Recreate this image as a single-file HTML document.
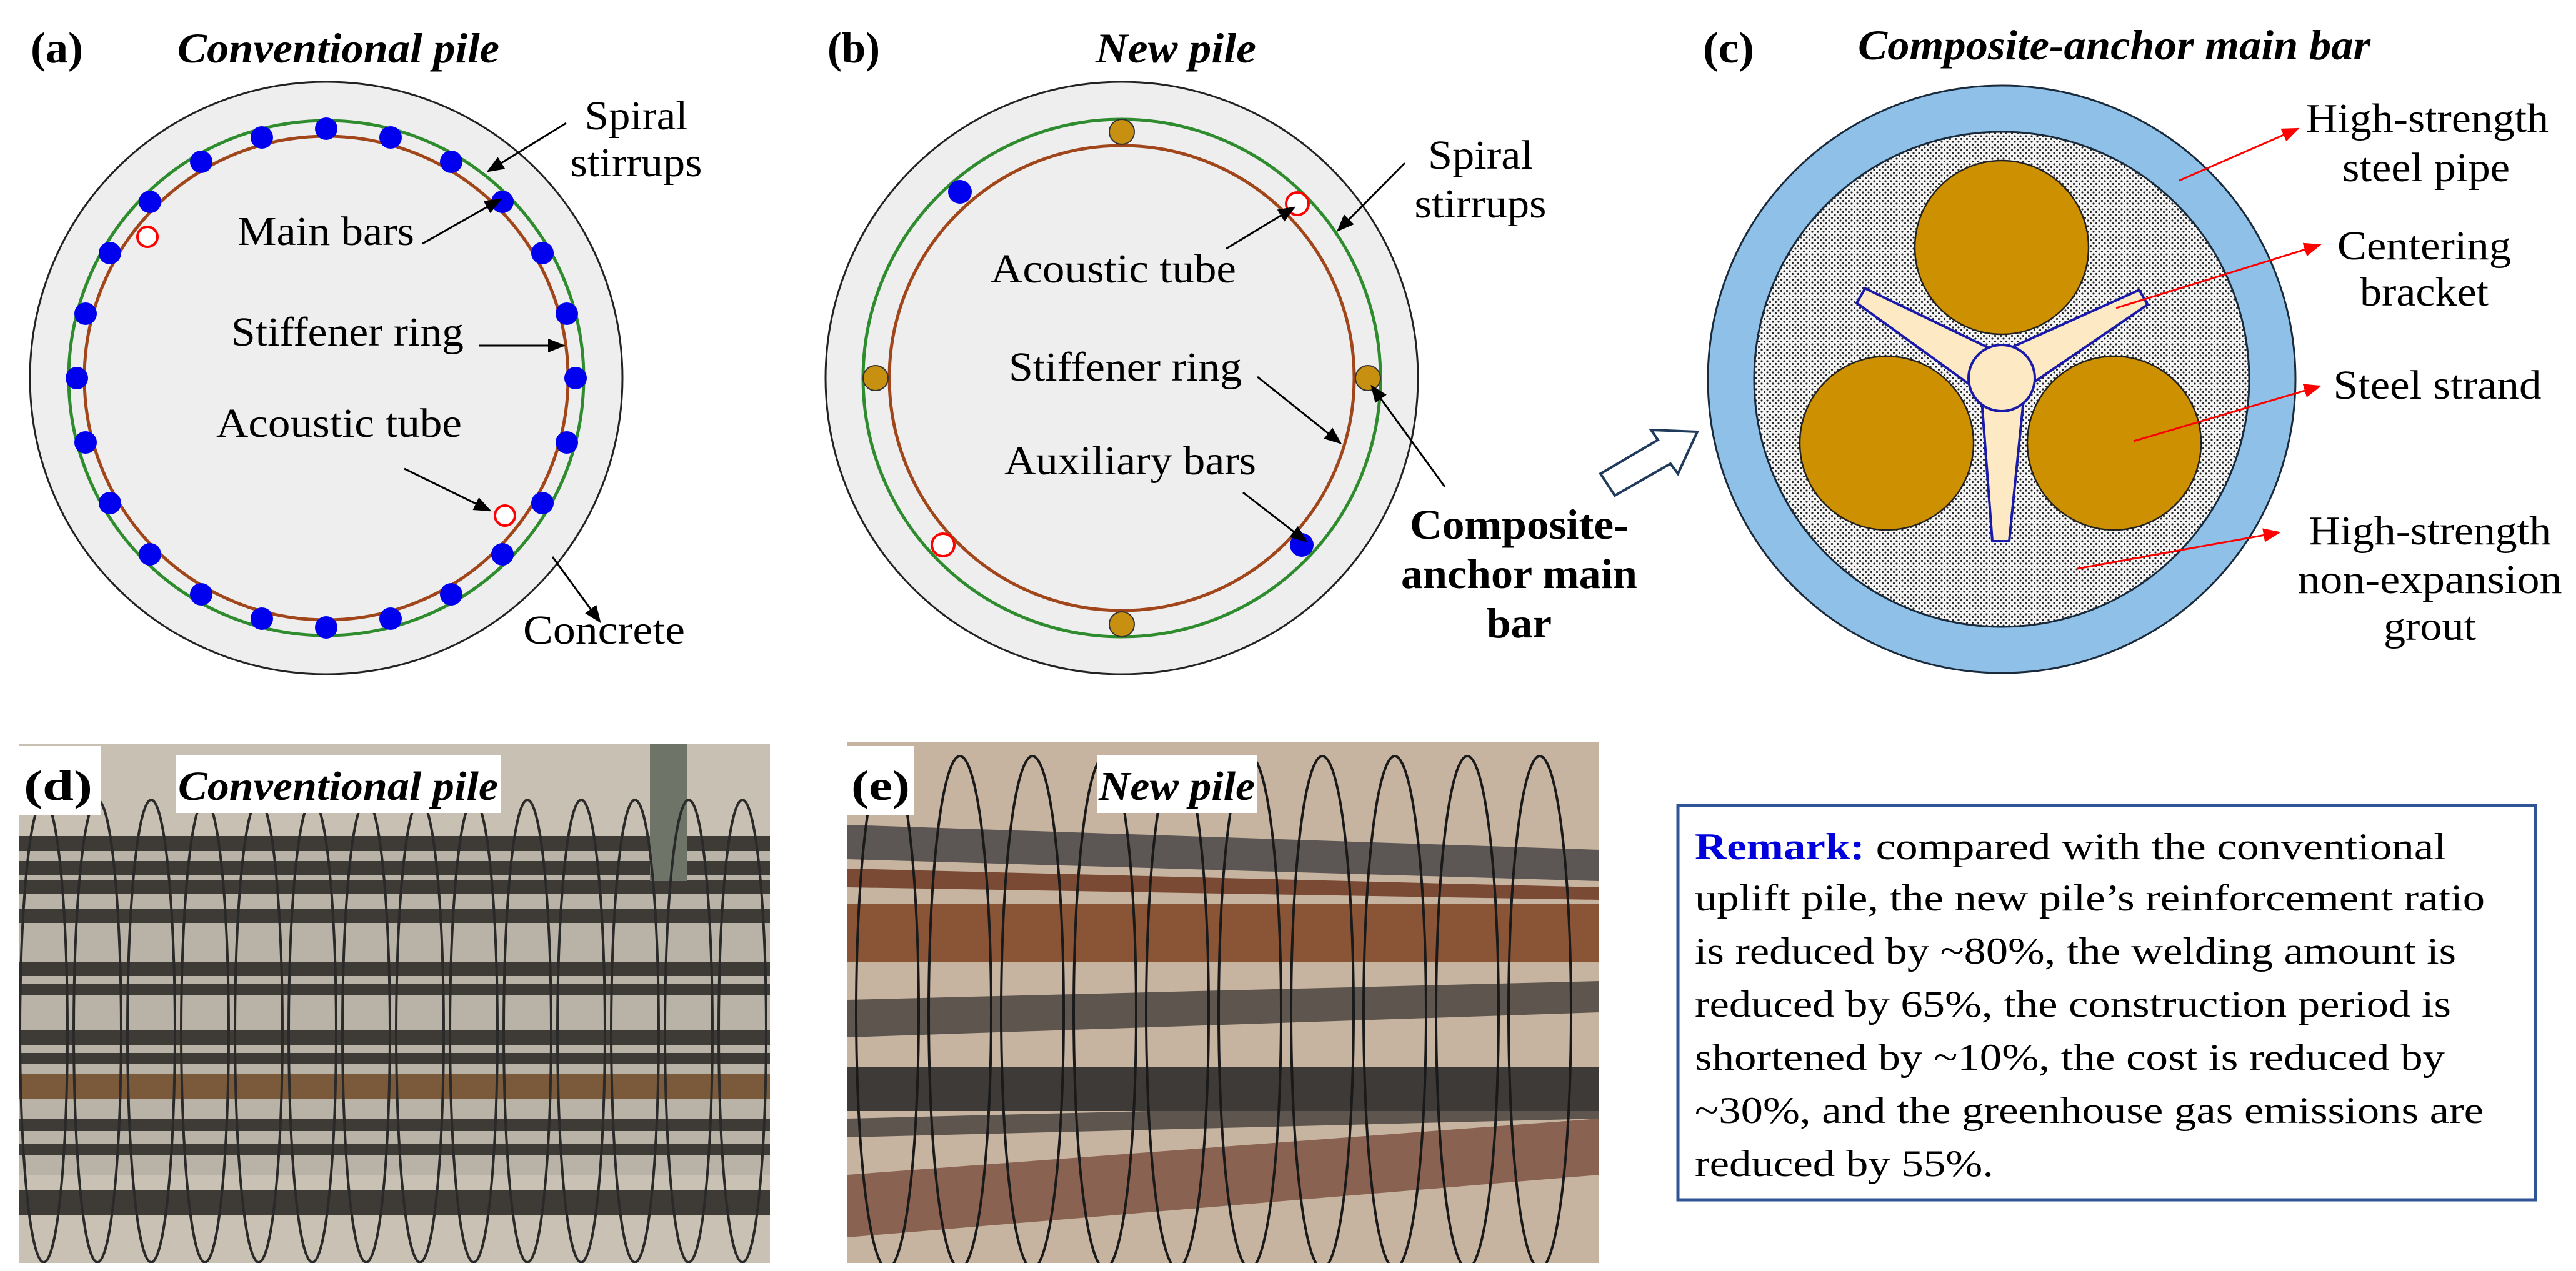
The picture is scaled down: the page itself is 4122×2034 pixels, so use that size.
<!DOCTYPE html>
<html><head><meta charset="utf-8"><style>
html,body{margin:0;padding:0;background:#fff;}
svg{display:block;}
svg text{font-family:"Liberation Serif","Times New Roman","DejaVu Serif",serif;fill:#000;}
</style></head><body>
<svg width="4122" height="2034" viewBox="0 0 4122 2034" xmlns="http://www.w3.org/2000/svg">
<defs>
<marker id="ak" viewBox="0 0 10 10" refX="9" refY="5" markerWidth="28" markerHeight="28" markerUnits="userSpaceOnUse" orient="auto"><path d="M0,1 L10,5 L0,9 z" fill="#000"/></marker>
<marker id="ar" viewBox="0 0 10 10" refX="9" refY="5" markerWidth="28" markerHeight="28" markerUnits="userSpaceOnUse" orient="auto"><path d="M0,1 L10,5 L0,9 z" fill="#f00"/></marker>
<pattern id="dots" width="9" height="9" patternUnits="userSpaceOnUse"><rect width="9" height="9" fill="#f4f4f4"/><circle cx="2" cy="2" r="1.6" fill="#222"/><circle cx="6.5" cy="6.5" r="1.6" fill="#222"/></pattern>
<clipPath id="cd"><rect x="30" y="1190" width="1202" height="831"/></clipPath>
<clipPath id="ce"><rect x="1356" y="1187" width="1203" height="834"/></clipPath>
</defs>

<!-- Panel (a) -->
<text x="49" y="100" font-size="70" font-weight="bold" textLength="84" lengthAdjust="spacingAndGlyphs">(a)</text>
<text x="284" y="100" font-size="68" font-weight="bold" font-style="italic" textLength="515" lengthAdjust="spacingAndGlyphs">Conventional pile</text>
<circle cx="522" cy="605" r="474" fill="#eeeeee" stroke="#222" stroke-width="3"/>
<circle cx="522" cy="605" r="412" fill="none" stroke="#2e8b2e" stroke-width="5"/>
<circle cx="522" cy="605" r="387" fill="none" stroke="#a0461a" stroke-width="5"/>
<g fill="#0000ee">
<circle cx="522" cy="206" r="18"/><circle cx="625" cy="220" r="18"/><circle cx="722" cy="259" r="18"/><circle cx="804" cy="323" r="18"/><circle cx="868" cy="405" r="18"/><circle cx="907" cy="502" r="18"/><circle cx="921" cy="605" r="18"/><circle cx="907" cy="708" r="18"/><circle cx="868" cy="805" r="18"/><circle cx="804" cy="887" r="18"/><circle cx="722" cy="951" r="18"/><circle cx="625" cy="990" r="18"/><circle cx="522" cy="1004" r="18"/><circle cx="419" cy="990" r="18"/><circle cx="322" cy="951" r="18"/><circle cx="240" cy="887" r="18"/><circle cx="176" cy="805" r="18"/><circle cx="137" cy="708" r="18"/><circle cx="123" cy="605" r="18"/><circle cx="137" cy="502" r="18"/><circle cx="176" cy="405" r="18"/><circle cx="240" cy="323" r="18"/><circle cx="322" cy="259" r="18"/><circle cx="419" cy="220" r="18"/>
</g>
<circle cx="236" cy="379" r="16" fill="#fff" stroke="#f00" stroke-width="4"/>
<circle cx="808" cy="825" r="16" fill="#fff" stroke="#f00" stroke-width="4"/>
<g font-size="66">
<text x="1018" y="207" text-anchor="middle" textLength="165" lengthAdjust="spacingAndGlyphs">Spiral</text>
<text x="1018" y="282" text-anchor="middle" textLength="211" lengthAdjust="spacingAndGlyphs">stirrups</text>
<text x="380" y="392" textLength="283" lengthAdjust="spacingAndGlyphs">Main bars</text>
<text x="370" y="553" textLength="372" lengthAdjust="spacingAndGlyphs">Stiffener ring</text>
<text x="346" y="699" textLength="393" lengthAdjust="spacingAndGlyphs">Acoustic tube</text>
<text x="837" y="1030" textLength="259" lengthAdjust="spacingAndGlyphs">Concrete</text>
</g>
<g stroke="#000" stroke-width="3" fill="none" marker-end="url(#ak)">
<line x1="906" y1="197" x2="781" y2="274"/>
<line x1="676" y1="390" x2="801" y2="319"/>
<line x1="766" y1="553" x2="902" y2="553"/>
<line x1="647" y1="750" x2="784" y2="817"/>
<line x1="884" y1="891" x2="960" y2="995"/>
</g>

<!-- Panel (b) -->
<text x="1324" y="100" font-size="70" font-weight="bold" textLength="84" lengthAdjust="spacingAndGlyphs">(b)</text>
<text x="1753" y="100" font-size="68" font-weight="bold" font-style="italic" textLength="257" lengthAdjust="spacingAndGlyphs">New pile</text>
<circle cx="1795" cy="605" r="474" fill="#eeeeee" stroke="#222" stroke-width="3"/>
<circle cx="1795" cy="605" r="414" fill="none" stroke="#2e8b2e" stroke-width="5"/>
<circle cx="1795" cy="605" r="372" fill="none" stroke="#a0461a" stroke-width="5"/>
<g fill="#c89010" stroke="#333" stroke-width="2">
<circle cx="1795" cy="211" r="20"/><circle cx="1795" cy="999" r="20"/><circle cx="1401" cy="605" r="20"/><circle cx="2189" cy="605" r="20"/>
</g>
<circle cx="1536" cy="307" r="19" fill="#0000ee"/>
<circle cx="2083" cy="872" r="19" fill="#0000ee"/>
<circle cx="2076" cy="326" r="18" fill="#fff" stroke="#f00" stroke-width="4"/>
<circle cx="1509" cy="872" r="18" fill="#fff" stroke="#f00" stroke-width="4"/>
<g font-size="66">
<text x="2369" y="270" text-anchor="middle" textLength="168" lengthAdjust="spacingAndGlyphs">Spiral</text>
<text x="2369" y="348" text-anchor="middle" textLength="211" lengthAdjust="spacingAndGlyphs">stirrups</text>
<text x="1585" y="452" textLength="393" lengthAdjust="spacingAndGlyphs">Acoustic tube</text>
<text x="1614" y="609" textLength="373" lengthAdjust="spacingAndGlyphs">Stiffener ring</text>
<text x="1607" y="759" textLength="403" lengthAdjust="spacingAndGlyphs">Auxiliary bars</text>
</g>
<g font-size="68" font-weight="bold" text-anchor="middle">
<text x="2431" y="862" textLength="350" lengthAdjust="spacingAndGlyphs">Composite-</text>
<text x="2431" y="941" textLength="378" lengthAdjust="spacingAndGlyphs">anchor main</text>
<text x="2431" y="1020" textLength="104" lengthAdjust="spacingAndGlyphs">bar</text>
</g>
<g stroke="#000" stroke-width="3" fill="none" marker-end="url(#ak)">
<line x1="1962" y1="398" x2="2071" y2="332"/>
<line x1="2248" y1="261" x2="2141" y2="369"/>
<line x1="2012" y1="603" x2="2145" y2="709"/>
<line x1="1989" y1="788" x2="2090" y2="866"/>
<line x1="2312" y1="779" x2="2195" y2="618"/>
</g>
<polygon points="2716,691 2642,688 2653,704 2561,758 2584,793 2673,742 2685,758" fill="#fff" stroke="#1f3a5a" stroke-width="4"/>

<!-- Panel (c) -->
<text x="2725" y="100" font-size="70" font-weight="bold" textLength="82" lengthAdjust="spacingAndGlyphs">(c)</text>
<text x="2973" y="95" font-size="68" font-weight="bold" font-style="italic" textLength="820" lengthAdjust="spacingAndGlyphs">Composite-anchor main bar</text>
<circle cx="3203" cy="607" r="470" fill="#8ec0e8" stroke="#1a2a3a" stroke-width="3"/>
<circle cx="3203" cy="607" r="396" fill="url(#dots)" stroke="#1a2a3a" stroke-width="3"/>
<g fill="#cc9000" stroke="#222" stroke-width="2.5">
<circle cx="3203" cy="396" r="139"/>
<circle cx="3019" cy="709" r="139"/>
<circle cx="3383" cy="709" r="139"/>
</g>
<g fill="#fde9c4" stroke="#1a1aaa" stroke-width="4" stroke-linejoin="round">
<polygon points="3171,640 3188,866 3215,866 3238,640"/>
<polygon points="3171,640 3188,866 3215,866 3238,640" transform="rotate(120 3203 605)"/>
<polygon points="3171,640 3188,866 3215,866 3238,640" transform="rotate(240 3203 605)"/>
<circle cx="3203" cy="605" r="53"/>
</g>
<g font-size="66" text-anchor="middle">
<text x="3884" y="211" textLength="388" lengthAdjust="spacingAndGlyphs">High-strength</text>
<text x="3882" y="290" textLength="268" lengthAdjust="spacingAndGlyphs">steel pipe</text>
<text x="3879" y="415" textLength="278" lengthAdjust="spacingAndGlyphs">Centering</text>
<text x="3879" y="489" textLength="206" lengthAdjust="spacingAndGlyphs">bracket</text>
<text x="3900" y="638" textLength="333" lengthAdjust="spacingAndGlyphs">Steel strand</text>
<text x="3888" y="871" textLength="388" lengthAdjust="spacingAndGlyphs">High-strength</text>
<text x="3888" y="949" textLength="423" lengthAdjust="spacingAndGlyphs">non-expansion</text>
<text x="3888" y="1024" textLength="148" lengthAdjust="spacingAndGlyphs">grout</text>
</g>
<g stroke="#f00" stroke-width="3" fill="none" marker-end="url(#ar)">
<line x1="3487" y1="289" x2="3677" y2="206"/>
<line x1="3386" y1="493" x2="3712" y2="392"/>
<line x1="3414" y1="706" x2="3712" y2="618"/>
<line x1="3324" y1="910" x2="3647" y2="852"/>
</g>

<!-- Photo (d) -->
<g clip-path="url(#cd)">
<rect x="30" y="1190" width="1202" height="831" fill="#b9b2a6"/>
<rect x="30" y="1190" width="1202" height="160" fill="#c8c0b2"/>
<rect x="30" y="1880" width="1202" height="141" fill="#c9c1b4"/>
<g fill="#3e3a36">
<rect x="30" y="1338" width="1202" height="24"/>
<rect x="30" y="1378" width="1202" height="22"/>
<rect x="30" y="1409" width="1202" height="22"/>
<rect x="30" y="1455" width="1202" height="22"/>
<rect x="30" y="1540" width="1202" height="22"/>
<rect x="30" y="1575" width="1202" height="18"/>
<rect x="30" y="1648" width="1202" height="24"/>
<rect x="30" y="1685" width="1202" height="18"/>
<rect x="30" y="1790" width="1202" height="20"/>
<rect x="30" y="1830" width="1202" height="18"/>
<rect x="30" y="1905" width="1202" height="40"/>
</g>
<rect x="30" y="1719" width="1202" height="40" fill="#7a5a3a"/>
<rect x="1040" y="1190" width="60" height="220" fill="#6f7468"/>
<g fill="none" stroke="#2a2a2a" stroke-width="4">
<ellipse cx="70" cy="1650" rx="38" ry="370"/><ellipse cx="156" cy="1650" rx="38" ry="370"/><ellipse cx="242" cy="1650" rx="38" ry="370"/><ellipse cx="328" cy="1650" rx="38" ry="370"/><ellipse cx="414" cy="1650" rx="38" ry="370"/><ellipse cx="500" cy="1650" rx="38" ry="370"/><ellipse cx="586" cy="1650" rx="38" ry="370"/><ellipse cx="672" cy="1650" rx="38" ry="370"/><ellipse cx="758" cy="1650" rx="38" ry="370"/><ellipse cx="844" cy="1650" rx="38" ry="370"/><ellipse cx="930" cy="1650" rx="38" ry="370"/><ellipse cx="1016" cy="1650" rx="38" ry="370"/><ellipse cx="1102" cy="1650" rx="38" ry="370"/><ellipse cx="1188" cy="1650" rx="38" ry="370"/>
</g>
</g>
<rect x="30" y="1194" width="131" height="110" fill="#fff"/>
<text x="38" y="1280" font-size="68" font-weight="bold" textLength="110" lengthAdjust="spacingAndGlyphs">(d)</text>
<rect x="281" y="1209" width="520" height="92" fill="#fff"/>
<text x="285" y="1280" font-size="66" font-weight="bold" font-style="italic" textLength="512" lengthAdjust="spacingAndGlyphs">Conventional pile</text>

<!-- Photo (e) -->
<g clip-path="url(#ce)">
<rect x="1356" y="1187" width="1203" height="834" fill="#c7b4a0"/>
<g fill="#4a4440" opacity="0.85">
<polygon points="1356,1600 2559,1570 2559,1620 1356,1660"/>
<polygon points="1356,1790 2559,1760 2559,1790 1356,1820"/>
</g>
<polygon points="1356,1320 2559,1360 2559,1410 1356,1375" fill="#5c5654"/>
<polygon points="1356,1390 2559,1420 2559,1440 1356,1420" fill="#7a4a34"/>
<rect x="1356" y="1447" width="1203" height="93" fill="#8a5436"/>
<rect x="1356" y="1708" width="1203" height="70" fill="#3d3a38"/>
<polygon points="1356,1880 2559,1790 2559,1880 1356,1980" fill="#8a6252"/>
<g fill="none" stroke="#1a1a1a" stroke-width="4">
<ellipse cx="1420" cy="1620" rx="50" ry="410"/><ellipse cx="1536" cy="1620" rx="50" ry="410"/><ellipse cx="1652" cy="1620" rx="50" ry="410"/><ellipse cx="1768" cy="1620" rx="50" ry="410"/><ellipse cx="1884" cy="1620" rx="50" ry="410"/><ellipse cx="2000" cy="1620" rx="50" ry="410"/><ellipse cx="2116" cy="1620" rx="50" ry="410"/><ellipse cx="2232" cy="1620" rx="50" ry="410"/><ellipse cx="2348" cy="1620" rx="50" ry="410"/><ellipse cx="2464" cy="1620" rx="50" ry="410"/>
</g>
</g>
<rect x="1356" y="1194" width="106" height="110" fill="#fff"/>
<text x="1362" y="1280" font-size="68" font-weight="bold" textLength="94" lengthAdjust="spacingAndGlyphs">(e)</text>
<rect x="1755" y="1209" width="257" height="92" fill="#fff"/>
<text x="1758" y="1280" font-size="66" font-weight="bold" font-style="italic" textLength="250" lengthAdjust="spacingAndGlyphs">New pile</text>

<!-- Remark box -->
<rect x="2685" y="1289" width="1372" height="631" fill="#fff" stroke="#2f5597" stroke-width="5"/>
<g font-size="60">
<text x="2712" y="1375" textLength="1202" lengthAdjust="spacingAndGlyphs"><tspan fill="#0000dd" font-weight="bold">Remark:</tspan> compared with the conventional</text>
<text x="2712" y="1457" textLength="1264" lengthAdjust="spacingAndGlyphs">uplift pile, the new pile’s reinforcement ratio</text>
<text x="2712" y="1542" textLength="1218" lengthAdjust="spacingAndGlyphs">is reduced by ~80%, the welding amount is</text>
<text x="2712" y="1627" textLength="1210" lengthAdjust="spacingAndGlyphs">reduced by 65%, the construction period is</text>
<text x="2712" y="1712" textLength="1200" lengthAdjust="spacingAndGlyphs">shortened by ~10%, the cost is reduced by</text>
<text x="2712" y="1797" textLength="1262" lengthAdjust="spacingAndGlyphs">~30%, and the greenhouse gas emissions are</text>
<text x="2712" y="1882" textLength="478" lengthAdjust="spacingAndGlyphs">reduced by 55%.</text>
</g>
</svg>
</body></html>
